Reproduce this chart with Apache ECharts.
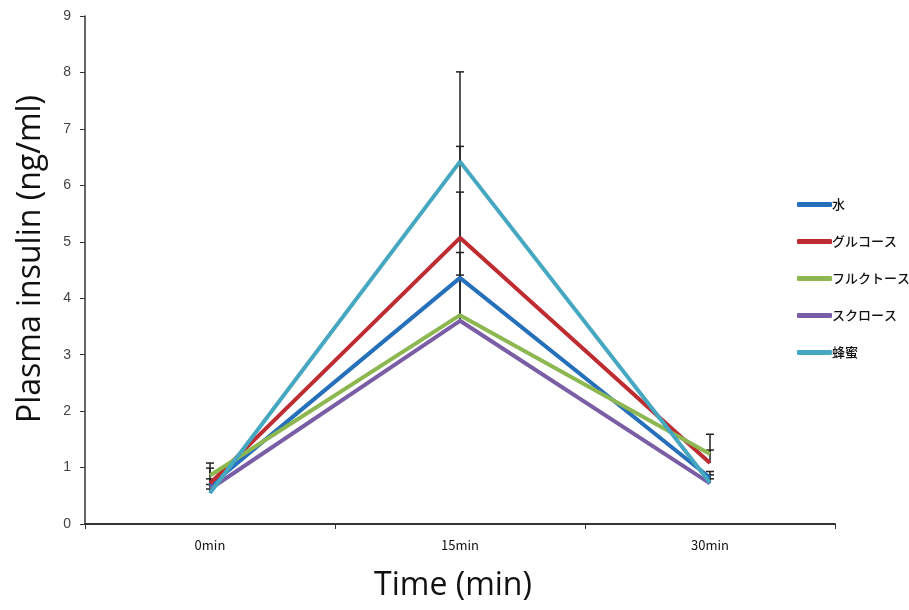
<!DOCTYPE html>
<html><head><meta charset="utf-8">
<script src="https://cdn.jsdelivr.net/npm/echarts@6/dist/echarts.min.js"></script>
<style>html,body{margin:0;padding:0;background:#fff}#c{width:909px;height:610px}</style>
</head><body><div id="c"></div>
<script>
const categories = ['0min', '15min', '30min'];
const seriesNames = ['水', 'グルコース', 'フルクトース', 'スクロース', '蜂蜜'];
const water = [0.68, 4.36, 0.82];
const glucose = [0.72, 5.07, 1.08];
const fructose = [0.86, 3.70, 1.24];
const sucrose = [0.62, 3.60, 0.72];
const honey = [0.55, 6.42, 0.73];
const waterUpper = [0.99, 5.88, 0.93];
const glucoseUpper = [0.80, 6.69, 1.31];
const fructoseUpper = [1.08, 4.81, 1.59];
const sucroseUpper = [0.70, 4.41, 0.87];
const honeyUpper = [0.62, 8.01, 0.80];
const yTicks = [0, 1, 2, 3, 4, 5, 6, 7, 8, 9];

const colors = ['#2670bb', '#be2b30', '#8cb751', '#7a5ea5', '#45a7c0'];
const values = [water, glucose, fructose, sucrose, honey];
const uppers = [waterUpper, glucoseUpper, fructoseUpper, sucroseUpper, honeyUpper];

const chart = echarts.init(document.getElementById('c'), null, {renderer: 'canvas'});

const lineSeries = seriesNames.map((n, i) => ({
  name: n, type: 'line', data: values[i], symbol: 'none',
  lineStyle: {width: 4, color: colors[i]}, itemStyle: {color: colors[i]}, z: 3
}));

const errData = [];
values.forEach((v, i) => v.forEach((val, j) => errData.push([j, val, uppers[i][j]])));

const errSeries = {
  type: 'custom', name: 'err', z: 2,
  data: errData,
  renderItem: function (params, api) {
    const p0 = api.coord([api.value(0), api.value(1)]);
    const p1 = api.coord([api.value(0), api.value(2)]);
    const w = 4;
    return {type: 'group', children: [
      {type: 'line', shape: {x1: p0[0], y1: p0[1], x2: p1[0], y2: p1[1]}, style: {stroke: '#222', lineWidth: 1.5}},
      {type: 'line', shape: {x1: p1[0]-w, y1: p1[1], x2: p1[0]+w, y2: p1[1]}, style: {stroke: '#222', lineWidth: 1.5}}
    ]};
  }
};

chart.setOption({
  animation: false,
  grid: {left: 85, right: 74, top: 16, bottom: 86},
  legend: {
    data: seriesNames, orient: 'vertical', left: 792, top: 193,
    itemWidth: 35, itemHeight: 5, itemGap: 24, icon: 'roundRect',
    textStyle: {fontFamily: 'Noto Sans CJK JP', fontSize: 13, fontWeight: 500, color: '#111', padding: [0,0,0,-5]}
  },
  xAxis: {
    type: 'category', data: categories, boundaryGap: true,
    axisLine: {lineStyle: {color: '#333', width: 2}},
    axisTick: {show: true, length: 5, lineStyle: {color: '#333', width: 1}},
    axisLabel: {fontFamily: 'Noto Sans CJK JP', fontSize: 13, color: '#111', margin: 15},
    name: 'Time (min)', nameLocation: 'middle', nameGap: 46,
    nameTextStyle: {fontFamily: 'Open Sans', fontSize: 32, color: '#111', padding: [0, 14, 0, 0]}
  },
  yAxis: {
    type: 'value', min: 0, max: 9, interval: 1,
    axisLine: {show: true, lineStyle: {color: '#333', width: 1.5}},
    axisTick: {show: true, length: 5, lineStyle: {color: '#333'}},
    axisLabel: {fontFamily: 'Liberation Sans', fontSize: 14, color: '#444', margin: 14,
      formatter: v => yTicks.includes(v) ? String(v) : ''},
    splitLine: {show: false},
    name: 'Plasma insulin (ng/ml)', nameLocation: 'middle', nameGap: 38,
    nameTextStyle: {fontFamily: 'Open Sans', fontSize: 32, color: '#111', padding: [0, 0, 0, 22]}
  },
  series: lineSeries.concat([errSeries])
});
</script></body></html>
